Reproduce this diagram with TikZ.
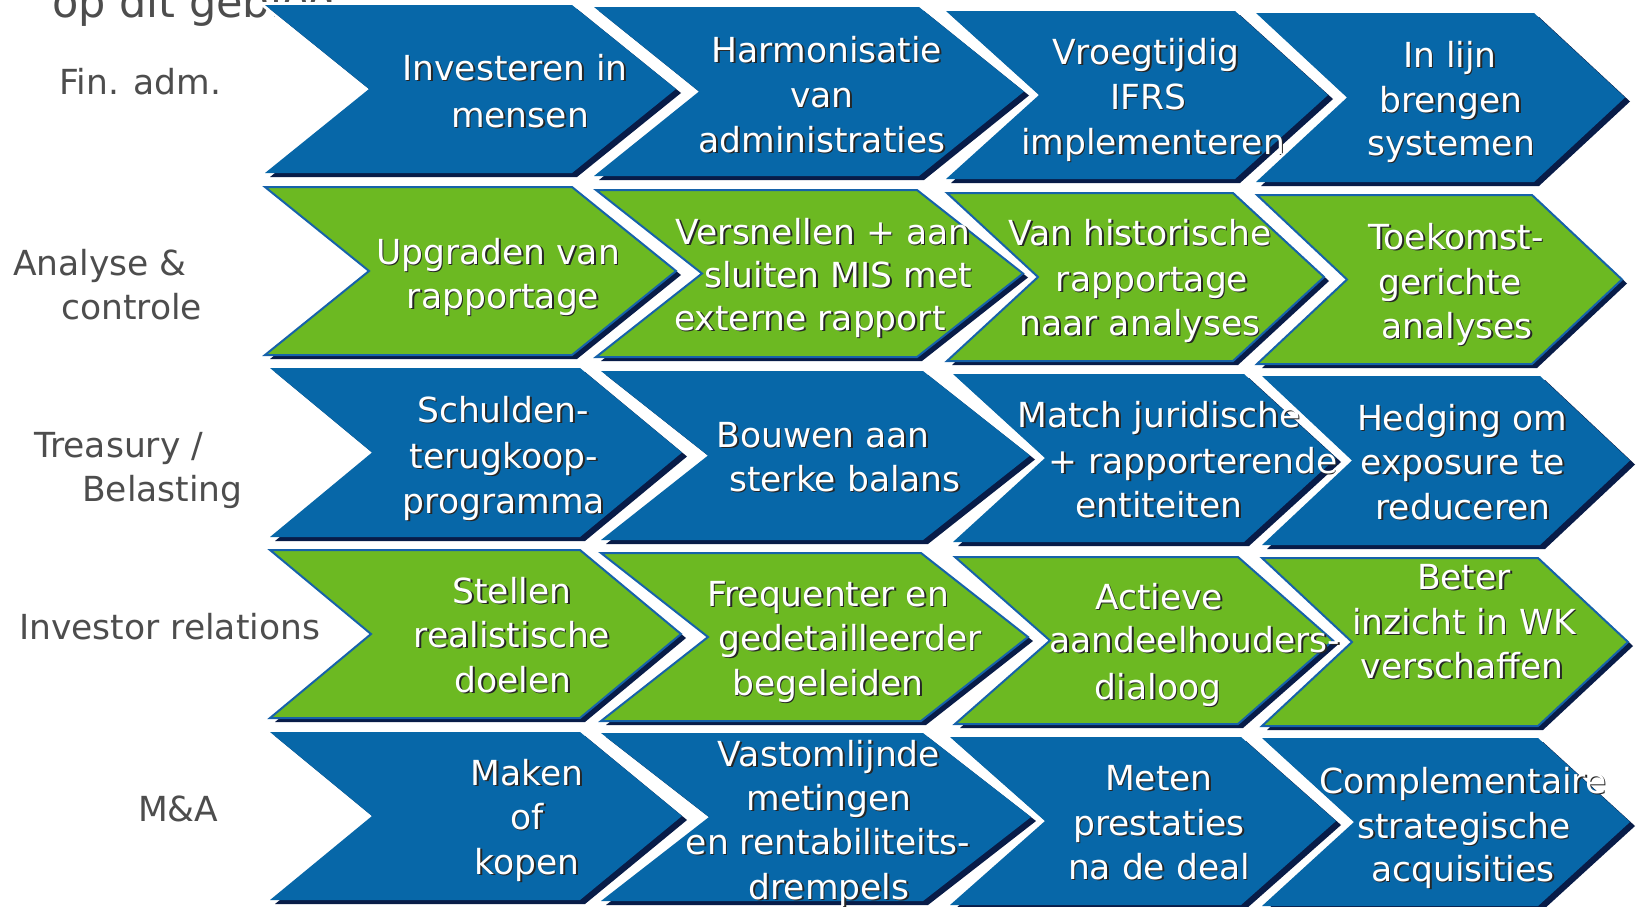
\documentclass[tikz,border=0pt]{standalone}
\usepackage{fontspec}
\setmainfont{DejaVu Sans}
\definecolor{chblue}{RGB}{7,103,168}
\definecolor{chgreen}{RGB}{108,185,34}
\definecolor{chnavy}{RGB}{8,28,72}
\definecolor{chedge}{RGB}{22,98,170}
\definecolor{lblgray}{RGB}{77,77,77}
\newcounter{tlc}
\tikzset{
  bluechev/.style={fill=chblue},
  greenchev/.style={fill=chgreen, draw=chedge, line width=2},
  chtext/.style={anchor=base, inner sep=0, text=white, font=\fontsize{34.5}{41}\selectfont},
  chshadow/.style={anchor=base, inner sep=0, text=black!85, font=\fontsize{34.5}{41}\selectfont},
  lbl/.style={anchor=base west, inner sep=0, text=lblgray, font=\fontsize{34.5}{41}\selectfont},
}
% name, xL, xR, yT, yB, depth, style
\newcommand\chev[7]{%
  \pgfmathsetmacro\chym{(#4+#5)/2}%
  \pgfmathsetmacro\chtip{#3+#6}%
  \pgfmathsetmacro\chnotch{#2+#6}%
  \draw[white, line width=6] (#2,#4) -- (#3,#4) -- (\chtip,\chym) -- (#3,#5) -- (#2,#5) -- (\chnotch,\chym) -- cycle;
  \fill[chnavy] ({#2+5},{#4+4}) -- ({#3+5},{#4+4}) -- ({\chtip+5},{\chym+4}) -- ({#3+5},{#5+4}) -- ({#2+5},{#5+4}) -- ({\chnotch+5},{\chym+4}) -- cycle;
  \path[#7] (#2,#4) -- (#3,#4) -- (\chtip,\chym) -- (#3,#5) -- (#2,#5) -- (\chnotch,\chym) -- cycle;
  \coordinate (#1) at (\chnotch,\chym);
}
\newcommand\tl[3]{%
  \node[chshadow] at ({#1+1.6},{#2+13.6}) {#3};
  \node[chtext] (tl\arabic{tlc}) at (#1,{#2+12}) {#3};
  \stepcounter{tlc}%
}
\begin{document}
\begin{tikzpicture}[x=1pt,y=-1pt]
\useasboundingbox (0,0) rectangle (1637,906);
\clip (0,0) rectangle (1637,906);
\fill[white] (0,0) rectangle (1637,906);

% labels
\node[lbl, font=\fontsize{43}{50}\selectfont] (title) at (52,17) {op dit gebied};
\node[lbl] (l1) at (59,94) {Fin. adm.};
\node[lbl] (l2a) at (13,275) {Analyse \&};
\node[lbl] (l2b) at (61,319) {controle};
\node[lbl] (l3a) at (34,457) {Treasury /};
\node[lbl] (l3b) at (82,501) {Belasting};
\node[lbl] (l4) at (19,639) {Investor relations};
\node[lbl] (l5) at (138,821) {M\&A};

% Row 1
\chev{r1c1}{265}{572}{5}{173}{104}{bluechev}
\tl{515}{68}{Investeren in}
\tl{520}{115}{mensen}
\chev{r1c2}{594}{919}{7}{176}{105}{bluechev}
\tl{827}{50}{Harmonisatie}
\tl{822}{95}{van}
\tl{822}{140}{administraties}
\chev{r1c3}{946}{1235}{11}{179}{93}{bluechev}
\tl{1146}{52}{Vroegtijdig}
\tl{1148}{97}{IFRS}
\tl{1153}{142}{implementeren}
\chev{r1c4}{1256}{1534}{13}{182}{91}{bluechev}
\tl{1450}{55}{In lijn}
\tl{1451}{100}{brengen}
\tl{1451}{143}{systemen}

% Row 2
\chev{r2c1}{265}{572}{187}{355}{104}{greenchev}
\tl{498}{252}{Upgraden van}
\tl{503}{296}{rapportage}
\chev{r2c2}{596}{917}{190}{357}{106}{greenchev}
\tl{823}{232}{Versnellen + aan}
\tl{838}{275}{sluiten MIS met}
\tl{810}{318}{externe rapport}
\chev{r2c3}{947}{1233}{193}{361}{91}{greenchev}
\tl{1140}{233}{Van historische}
\tl{1152}{279}{rapportage}
\tl{1140}{323}{naar analyses}
\chev{r2c4}{1257}{1532}{195}{364}{90}{greenchev}
\tl{1456}{237}{Toekomst-}
\tl{1450}{282}{gerichte}
\tl{1457}{326}{analyses}

% Row 3
\chev{r3c1}{270}{580}{368}{537}{102}{bluechev}
\tl{503}{410}{Schulden-}
\tl{504}{456}{terugkoop-}
\tl{504}{501}{programma}
\chev{r3c2}{601}{923}{371}{540}{107}{bluechev}
\tl{823}{435}{Bouwen aan}
\tl{845}{479}{sterke balans}
\chev{r3c3}{953}{1244}{374}{542}{92}{bluechev}
\tl{1159}{415}{Match juridische}
\tl{1193}{461}{+ rapporterende}
\tl{1159}{505}{entiteiten}
\chev{r3c4}{1262}{1540}{376}{545}{90}{bluechev}
\tl{1462}{418}{Hedging om}
\tl{1463}{462}{exposure te}
\tl{1463}{507}{reduceren}

% Row 4
\chev{r4c1}{270}{580}{550}{718}{101}{greenchev}
\tl{512}{591}{Stellen}
\tl{512}{635}{realistische}
\tl{513}{680}{doelen}
\chev{r4c2}{601}{921}{553}{721}{107}{greenchev}
\tl{828}{594}{Frequenter en}
\tl{850}{638}{gedetailleerder}
\tl{828}{683}{begeleiden}
\chev{r4c3}{955}{1238}{557}{724}{95}{greenchev}
\tl{1159}{597}{Actieve}
\tl{1195}{640}{aandeelhouders-}
\tl{1158}{687}{dialoog}
\chev{r4c4}{1262}{1538}{558}{726}{90}{greenchev}
\tl{1464}{577}{Beter}
\tl{1464}{622}{inzicht in WK}
\tl{1462}{666}{verschaffen}

% Row 5
\chev{r5c1}{270}{580}{732}{900}{102}{bluechev}
\tl{527}{773}{Maken}
\tl{527}{817}{of}
\tl{527}{862}{kopen}
\chev{r5c2}{601}{923}{733}{901}{108}{bluechev}
\tl{829}{754}{Vastomlijnde}
\tl{829}{798}{metingen}
\tl{828}{842}{en rentabiliteits-}
\tl{829}{887}{drempels}
\chev{r5c3}{950}{1241}{737}{905}{95}{bluechev}
\tl{1159}{778}{Meten}
\tl{1159}{823}{prestaties}
\tl{1159}{867}{na de deal}
\chev{r5c4}{1262}{1538}{738}{906}{92}{bluechev}
\tl{1463}{781}{Complementaire}
\tl{1464}{826}{strategische}
\tl{1463}{869}{acquisities}
\end{tikzpicture}
\end{document}
